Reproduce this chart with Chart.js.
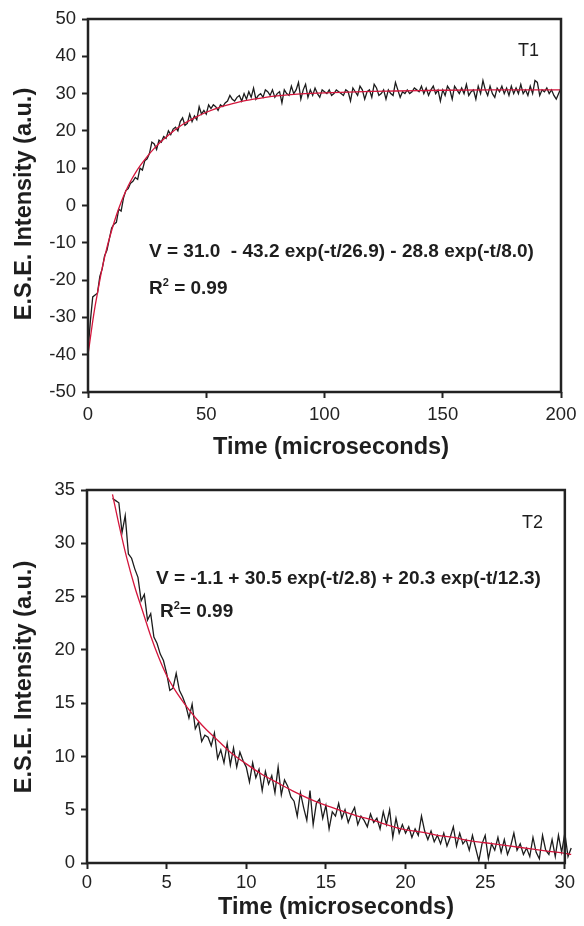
<!DOCTYPE html>
<html><head><meta charset="utf-8">
<script src="https://cdn.jsdelivr.net/npm/chart.js@4.4.1/dist/chart.umd.min.js"></script>
<style>
html,body{margin:0;padding:0;background:#fff;}
#wrap{position:relative;width:584px;height:926px;overflow:hidden;font-family:"Liberation Sans",Arial,Helvetica,sans-serif;color:#1e1e1e;}
canvas{position:absolute;left:0;}
.t{position:absolute;white-space:nowrap;line-height:1;}
.ytitle{font-weight:bold;font-size:23.5px;transform:translate(-50%,-50%) rotate(-90deg);}
.xtitle{font-weight:bold;font-size:23.5px;transform:translate(-50%,-50%);}
.eq{font-weight:bold;font-size:19px;transform:translateY(-50%);}
.lab{font-size:18px;transform:translateY(-50%);}
sup{font-size:11px;vertical-align:0;position:relative;top:-8px;}
</style></head>
<body>
<div id="wrap">
<canvas id="c1" width="584" height="460" style="top:0;width:584px;height:460px"></canvas>
<canvas id="c2" width="584" height="466" style="top:460px;width:584px;height:466px"></canvas>
<div class="t ytitle" style="left:24px;top:204px">E.S.E. Intensity (a.u.)</div>
<div class="t xtitle" style="left:331px;top:447px">Time (microseconds)</div>
<div class="t lab" style="left:518px;top:50px">T1</div>
<div class="t eq" style="left:149px;top:250px">V = 31.0&nbsp; - 43.2 exp(-t/26.9) - 28.8 exp(-t/8.0)</div>
<div class="t eq" style="left:149px;top:287px">R<sup>2</sup> = 0.99</div>
<div class="t ytitle" style="left:24px;top:677px">E.S.E. Intensity (a.u.)</div>
<div class="t xtitle" style="left:336px;top:907px">Time (microseconds)</div>
<div class="t lab" style="left:522px;top:522px">T2</div>
<div class="t eq" style="left:156px;top:577px">V = -1.1 + 30.5 exp(-t/2.8) + 20.3 exp(-t/12.3)</div>
<div class="t eq" style="left:160px;top:610px">R<sup>2</sup>= 0.99</div>
</div>
<script>
// ---------- T1 panel data ----------
const t1Start = 0, t1Step = 1;
const t1Signal = [
-39,-31,-24.5,-24,-23.5,-19,-17,-13.5,-12,-9,
-6,-5,-4.5,-1,-1.5,2,4,4.5,6,6.5,
7.5,7,10,9.5,12,12.5,14,17,16.5,15,
17.5,17,18.5,18,20,19,20.5,21,20,22.5,
23.5,21.5,22,24.5,22.5,24,23,26.5,24.5,25.5,
24.5,27,26,27,26.5,25.5,27,26.5,27.5,28,
29.5,28.5,28,29,29.5,28,30,28.5,30.5,29,
31.5,28.5,29.5,30,29,31,30.5,29.5,31,29,
30,30.5,27.5,31,30,29.5,32,30,31,33,
28.5,31,32.5,29,31,29.5,31.5,30,29,31,
30.5,30,31,29.5,30,31,30.5,30,29.5,31,
30.5,28,31.5,30.5,29.5,32,31,28.5,30.5,31,
29,32.5,31.5,29.5,30,31,28.5,31,30,29.5,
33,31,29,30.5,30,31,30,30.5,31.5,31,
30.5,32,30,31.5,29.5,31,32,30,31,28,
31,29.5,32,31,28.5,32,31,30,31.5,30,
32.5,29.5,30.5,31,28.5,32,30,33.5,31,29.5,
32,30,29,31.5,30.5,32,30,31.5,29.5,32,
30,31.5,30,32.5,30,31,29.5,32,30,33.5,
33,29.5,31,30.5,31.5,30,31,29.5,28.5,30,
31.5];
const t1FitTime = [0,1,2,3,4,6,8,10,12,14,16,18,20,22,25,28,31,35,40,45,50,55,60,65,70,75,80,90,100,110,120,130,140,150,170,200];
const t1FitValue = [-40,-35.5,-31,-27,-23.5,-16.8,-11.3,-6.7,-2.6,0.9,3.9,6.5,8.7,10.6,13.1,15.3,17.2,19.4,21.7,23.5,25,26.2,27.1,27.9,28.5,29,29.4,29.9,30.2,30.4,30.6,30.7,30.8,30.9,31,31];
const t1XTicks = [0,50,100,150,200];
const t1YTicks = [-50,-40,-30,-20,-10,0,10,20,30,40,50];

// ---------- T2 panel data ----------
const t2Start = 1.6, t2Step = 0.2;
const t2Signal = [
34.2,34.0,33.8,31.0,32.6,29.0,28.6,27.6,26.8,24.6,
25.2,22.8,23.4,21.2,20.6,19.6,19.0,17.8,16.2,16.4,
17.8,16.2,15.6,14.8,13.6,14.9,12.6,13.2,11.4,12.0,
11.8,11.0,12.2,9.8,10.6,9.4,11.2,9.2,10.8,9.0,
10.4,9.6,9.0,7.6,9.4,8.0,8.8,6.8,8.6,7.4,
8.2,6.6,9.0,6.4,7.8,7.2,6.2,5.8,4.4,6.6,
5.2,4.0,6.8,3.6,5.6,6.0,4.2,5.4,3.2,4.8,
4.4,5.6,4.2,5.0,3.8,4.6,5.2,3.6,4.4,4.0,
3.4,4.6,3.8,4.2,3.2,4.8,3.6,5.0,2.4,4.2,
2.8,3.6,2.8,3.4,2.4,3.2,2.6,4.4,3.0,2.2,
3.0,2.0,2.6,1.8,2.8,1.6,2.4,3.4,1.6,2.8,
1.8,2.2,1.2,2.6,1.4,0.2,1.8,2.6,0.4,1.8,
1.2,2.4,1.0,2.2,0.8,1.6,2.8,1.2,1.8,0.8,
1.4,0.6,2.4,1.0,0.4,2.6,1.2,0.8,2.2,0.6,
2.6,1.0,2.8,0.6,1.4];
const t2FitTime = [1.6,2,2.5,3,3.5,4,4.5,5,5.5,6,6.5,7,7.5,8,9,10,11,12,13,14,15,16,17,18,19,20,21,22,23,24,25,26,27,28,29,30,30.4];
const t2FitValue = [34.6,31.8,28.6,25.9,23.6,21.3,19.3,17.6,16.3,15.2,14.2,13.3,12.5,11.8,10.4,9.3,8.3,7.5,6.7,6.0,5.4,4.9,4.4,4.0,3.5,3.1,2.9,2.6,2.4,2.1,1.9,1.7,1.5,1.3,1.1,0.9,0.8];
const t2XTicks = [0,5,10,15,20,25,30];
const t2YTicks = [0,5,10,15,20,25,30,35];

function toPoints(xs, ys){ return ys.map((y,i)=>({x:xs[i], y})); }
function gridPoints(start, step, ys){ return ys.map((y,i)=>({x:+(start+i*step).toFixed(4), y})); }

const FONT = '"Liberation Sans", Arial, Helvetica, sans-serif';
const frame = {
  id:'frame',
  afterDatasetsDraw(chart, args, o){
    const {ctx, chartArea:a, scales} = chart;
    const r = scales.x.getPixelForValue(o.xEnd);
    ctx.save();
    ctx.strokeStyle = '#222';
    ctx.lineWidth = 2.5;
    ctx.strokeRect(a.left, a.top, r - a.left, a.bottom - a.top);
    ctx.restore();
  }
};

function makeChart(id, cfg){
  new Chart(document.getElementById(id), {
    type:'line',
    data:{datasets:[
      {data:toPoints(cfg.fitT, cfg.fitV), borderColor:'#d4163c', borderWidth:1.3, pointRadius:0, cubicInterpolationMode:'monotone', clip:false},
      {data:gridPoints(cfg.start, cfg.step, cfg.sig), borderColor:'#1c1c1c', borderWidth:1.3, pointRadius:0, tension:0, clip:false}
    ]},
    options:{
      responsive:false, animation:false, events:[],
      layout:{padding:cfg.pad},
      plugins:{legend:{display:false}, tooltip:{enabled:false}, frame:{xEnd:cfg.xEnd}},
      scales:{
        x:{type:'linear', min:cfg.xMin, max:cfg.xMax,
           afterBuildTicks:s=>{s.ticks = cfg.xTicks.map(v=>({value:v}));},
           afterFit:s=>{s.height = cfg.xH;},
           border:{display:false},
           grid:{drawOnChartArea:false, drawTicks:true, tickLength:6, tickColor:'#222', tickWidth:2, color:'#222'},
           ticks:{font:{family:FONT, size:18.5}, color:'#222', padding:cfg.xPad, maxRotation:0, autoSkip:false}},
        y:{type:'linear', min:cfg.yMin, max:cfg.yMax,
           afterBuildTicks:s=>{s.ticks = cfg.yTicks.map(v=>({value:v}));},
           afterFit:s=>{s.width = cfg.yW;},
           border:{display:false},
           grid:{drawOnChartArea:false, drawTicks:true, tickLength:6, tickColor:'#222', tickWidth:2, color:'#222'},
           ticks:{font:{family:FONT, size:18.5}, color:'#222', padding:6, autoSkip:false}}
      }
    },
    plugins:[frame]
  });
}

makeChart('c1', {start:t1Start, step:t1Step, sig:t1Signal, fitT:t1FitTime, fitV:t1FitValue,
  xMin:0, xMax:200, xEnd:200, yMin:-50, yMax:50, xTicks:t1XTicks, yTicks:t1YTicks,
  pad:{top:19, left:0, right:23, bottom:0}, xH:68, yW:88, xPad:6});
makeChart('c2', {start:t2Start, step:t2Step, sig:t2Signal, fitT:t2FitTime, fitV:t2FitValue,
  xMin:0, xMax:30.45, xEnd:30, yMin:0, yMax:35, xTicks:t2XTicks, yTicks:t2YTicks,
  pad:{top:30, left:0, right:12, bottom:0}, xH:63, yW:87, xPad:3});
</script>
</body></html>
